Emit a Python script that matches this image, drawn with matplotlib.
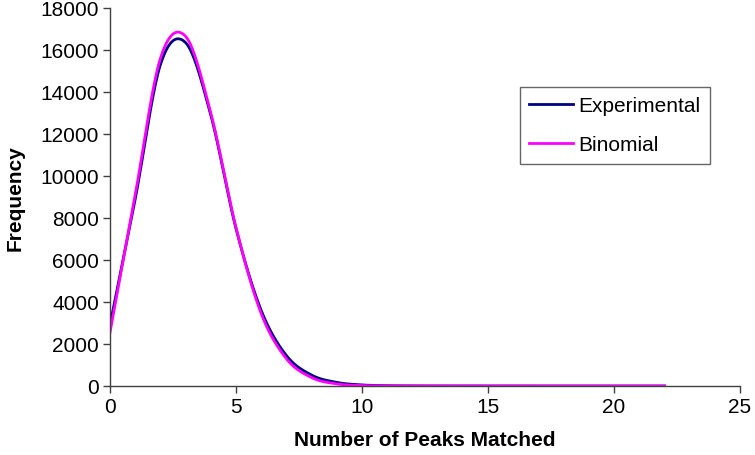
#!/usr/bin/env python3
"""
Peak matching frequency: experimental vs binomial distribution
"""
import numpy as np
import matplotlib
matplotlib.use('Agg')
import matplotlib.pyplot as plt

# data (frequency per number of matched peaks)
peaks = list(range(0, 23))
experimental = [2900, 8900, 15300, 16350, 12900, 7500, 3600, 1450, 520, 170, 50, 15,
                5, 2, 1, 0, 0, 0, 0, 0, 0, 0, 0]
binomial = [2550, 9100, 15600, 16650, 13000, 7550, 3450, 1300, 400, 100, 22, 5,
            1, 0, 0, 0, 0, 0, 0, 0, 0, 0, 0]

x_ticks = [0, 5, 10, 15, 20, 25]
y_ticks = list(range(0, 18001, 2000))


def smooth(x, y, steps=20):
    """Catmull-Rom curve through the points, like Excel's smoothed line"""
    x = np.asarray(x, float)
    y = np.asarray(y, float)
    px = np.concatenate([[2 * x[0] - x[1]], x, [2 * x[-1] - x[-2]]])
    py = np.concatenate([[2 * y[0] - y[1]], y, [2 * y[-1] - y[-2]]])
    t = np.linspace(0, 1, steps, endpoint=False)
    xs, ys = [], []
    for i in range(1, len(px) - 2):
        for p, out in ((px, xs), (py, ys)):
            p0, p1, p2, p3 = p[i - 1], p[i], p[i + 1], p[i + 2]
            out.append(0.5 * (2 * p1 + (-p0 + p2) * t
                              + (2 * p0 - 5 * p1 + 4 * p2 - p3) * t ** 2
                              + (-p0 + 3 * p1 - 3 * p2 + p3) * t ** 3))
    xs.append([x[-1]])
    ys.append([y[-1]])
    return np.concatenate(xs), np.concatenate(ys)


plt.rcParams['font.family'] = ['Liberation Sans', 'DejaVu Sans']

fig = plt.figure(figsize=(7.55, 4.56), dpi=100)
ax = fig.add_axes([110 / 755, 1 - 387 / 456, 630 / 755, 378 / 456])

ex, ey = smooth(peaks, experimental)
bx, by = smooth(peaks, binomial)
ax.plot(ex, ey, color='#000080', linewidth=2, label='Experimental')
ax.plot(bx, by, color='#FF00FF', linewidth=2, label='Binomial')

ax.set_xlim(0, 25)
ax.set_ylim(0, 18000)
ax.set_xticks(x_ticks)
ax.set_yticks(y_ticks)
ax.tick_params(axis='both', labelsize=15, length=5, width=1, color='#404040',
               direction='out', pad=3)
for side in ('top', 'right'):
    ax.spines[side].set_visible(False)
for side in ('left', 'bottom'):
    ax.spines[side].set_color('#404040')
    ax.spines[side].set_linewidth(1)

ax.set_xlabel('Number of Peaks Matched', fontsize=15, fontweight='bold', labelpad=10)
ax.set_ylabel('Frequency', fontsize=15, fontweight='bold', labelpad=11)

leg = ax.legend(loc='upper left', bbox_to_anchor=(410 / 630, 1 - 79 / 378),
                fontsize=15, frameon=True, fancybox=False, edgecolor='#404040',
                handlelength=2.1, handletextpad=0.25, borderpad=0.45,
                labelspacing=0.95, borderaxespad=0)
leg.get_frame().set_linewidth(1)

plt.savefig('out.png', dpi=100)
plt.close()
